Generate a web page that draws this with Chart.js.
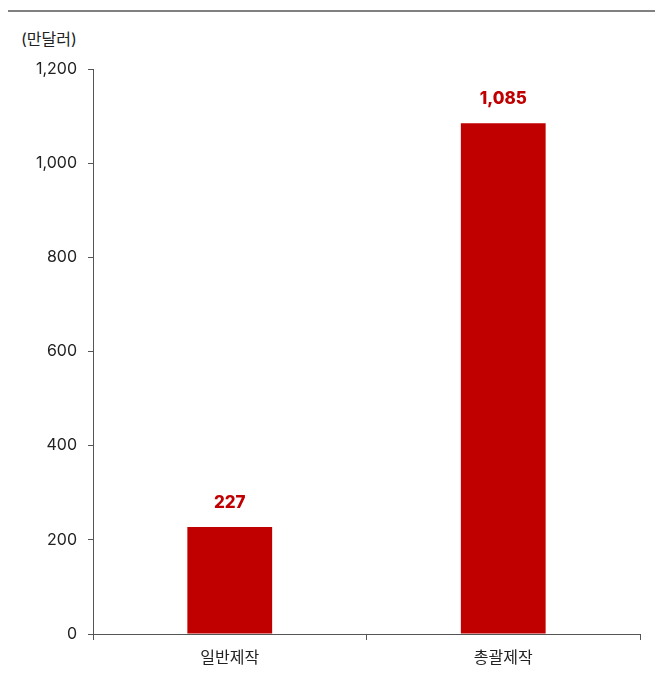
<!DOCTYPE html>
<html><head><meta charset="utf-8">
<script src="https://cdn.jsdelivr.net/npm/chart.js@4"></script>
<style>
html,body{margin:0;padding:0;background:#fff;}
#wrap{position:relative;width:661px;height:684px;}
#topline{position:absolute;left:8px;top:10px;width:647px;height:0;border-top:2px solid #808080;}
#unit{position:absolute;left:21px;top:26px;font-family:Inter,"Noto Sans CJK KR",sans-serif;font-size:16px;color:#222;}
canvas{position:absolute;left:0;top:0;}
</style></head>
<body><div id="wrap"><div id="topline"></div><div id="unit">(만달러)</div><canvas id="c" width="661" height="684"></canvas></div>
<script>
const categories = ["일반제작", "총괄제작"];
const values = [227, 1085];
const yTicks = [0, 200, 400, 600, 800, 1000, 1200];

const FONT = 'Inter,"Noto Sans CJK KR",sans-serif';
const labelPlugin = {
  id: 'valLabels',
  afterDatasetsDraw(chart) {
    const ctx = chart.ctx;
    const meta = chart.getDatasetMeta(0);
    ctx.save();
    ctx.fillStyle = '#C00000';
    ctx.font = '800 17px ' + FONT;
    ctx.textAlign = 'center';
    ctx.textBaseline = 'middle';
    meta.data.forEach((bar, i) => {
      ctx.fillText(values[i].toLocaleString('en-US'), bar.x, bar.y - 24);
    });
    ctx.restore();
  }
};

new Chart(document.getElementById('c'), {
  type: 'bar',
  data: { labels: categories, datasets: [{ data: values, backgroundColor: '#C00000', barPercentage: 0.62, categoryPercentage: 0.5 }] },
  options: {
    responsive: false, animation: false, devicePixelRatio: 1,
    layout: { padding: { top: 69, right: 21, left: 0, bottom: 0 } },
    plugins: { legend: { display: false }, tooltip: { enabled: false } },
    scales: {
      x: {
        offset: true,
        grid: { offset: true, drawOnChartArea: false, drawTicks: true, tickLength: 6, color: '#555' },
        border: { color: '#555', width: 1 },
        ticks: { color: '#222', font: { family: FONT, size: 16 }, padding: 9 },
        afterFit(s) { s.height = 50; }
      },
      y: {
        min: 0, max: 1200,
        afterBuildTicks(s) { s.ticks = yTicks.map(v => ({ value: v })); },
        grid: { drawOnChartArea: false, drawTicks: true, tickLength: 5, color: '#555' },
        border: { color: '#555', width: 1 },
        ticks: { color: '#222', font: { family: FONT, size: 16 }, padding: 11, callback: v => v.toLocaleString('en-US') },
        afterFit(s) { s.width = 93; }
      }
    }
  },
  plugins: [labelPlugin]
});
</script></body></html>
